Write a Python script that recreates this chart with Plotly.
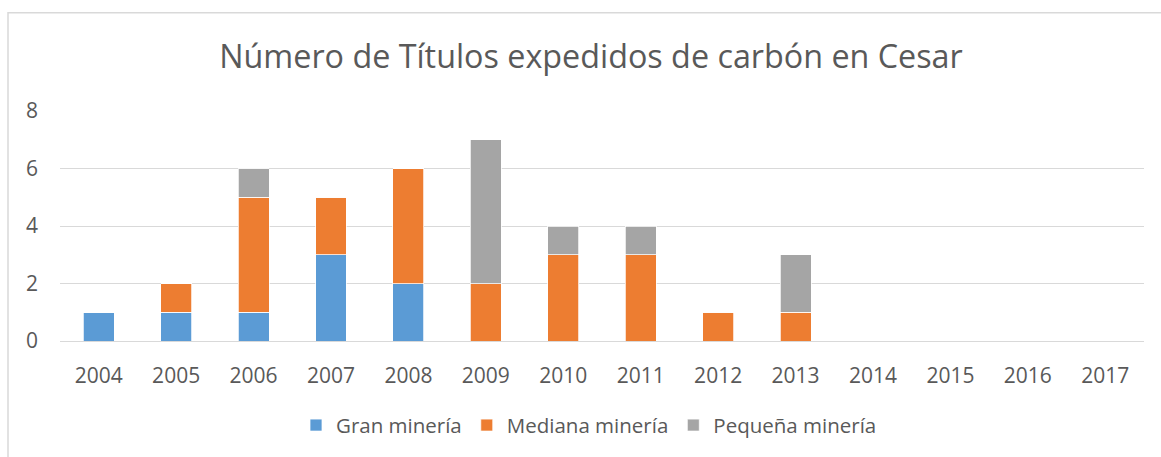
import plotly.graph_objects as go

years = ["2004", "2005", "2006", "2007", "2008", "2009", "2010",
         "2011", "2012", "2013", "2014", "2015", "2016", "2017"]
gran = [1, 1, 1, 3, 2, 0, 0, 0, 0, 0, 0, 0, 0, 0]
mediana = [0, 1, 4, 2, 4, 2, 3, 3, 1, 1, 0, 0, 0, 0]
pequena = [0, 0, 1, 0, 0, 5, 1, 1, 0, 2, 0, 0, 0, 0]

series = [("Gran minería", gran, "#5B9BD5"),
          ("Mediana minería", mediana, "#ED7D31"),
          ("Pequeña minería", pequena, "#A5A5A5")]

FONT = "Open Sans"
TXT = "#595959"

fig = go.Figure()
for name, vals, col in series:
    fig.add_trace(go.Bar(x=years, y=vals, name=name,
                         marker=dict(color=col, line=dict(color="white", width=0.75))))

W, H = 1161, 457
L, R, T, B = 60, 17, 111, 114
pw, ph = W - L - R, H - T - B

def px(x):
    return (x - L) / pw

def py(y):
    return (H - B - y) / ph

fig.update_layout(
    width=W, height=H,
    margin=dict(l=L, r=R, t=T, b=B),
    barmode="stack", bargap=0.6,
    plot_bgcolor="white", paper_bgcolor="white",
    font=dict(family=FONT, color=TXT),
    title=dict(text="Número de Títulos expedidos de carbón en Cesar",
               x=591 / W, xanchor="center", y=1 - 57 / H, yanchor="middle",
               font=dict(size=32.3, color=TXT, family=FONT)),
    legend=dict(orientation="h", x=px(589), xanchor="center",
                y=py(428), yanchor="middle", font=dict(size=20.5, color=TXT),
                itemwidth=30, traceorder="normal"),
    xaxis=dict(showgrid=False, showline=False, ticks="",
               tickfont=dict(size=21, color=TXT), ticklabelstandoff=20),
    yaxis=dict(range=[0, 8], dtick=2, showgrid=True, gridcolor="#D9D9D9",
               gridwidth=1, zeroline=True, zerolinecolor="#D9D9D9",
               zerolinewidth=1, showline=False, ticks="",
               tickfont=dict(size=21, color=TXT), ticklabelstandoff=21),
    shapes=[dict(type="rect", xref="paper", yref="paper",
                 x0=px(8), x1=px(1175), y0=py(470), y1=py(12),
                 line=dict(color="#D9D9D9", width=1.5), layer="below")],
)

fig.write_html("out.html", config={"displayModeBar": False},
               post_script="document.body.style.margin='0';document.body.style.overflow='hidden';")
